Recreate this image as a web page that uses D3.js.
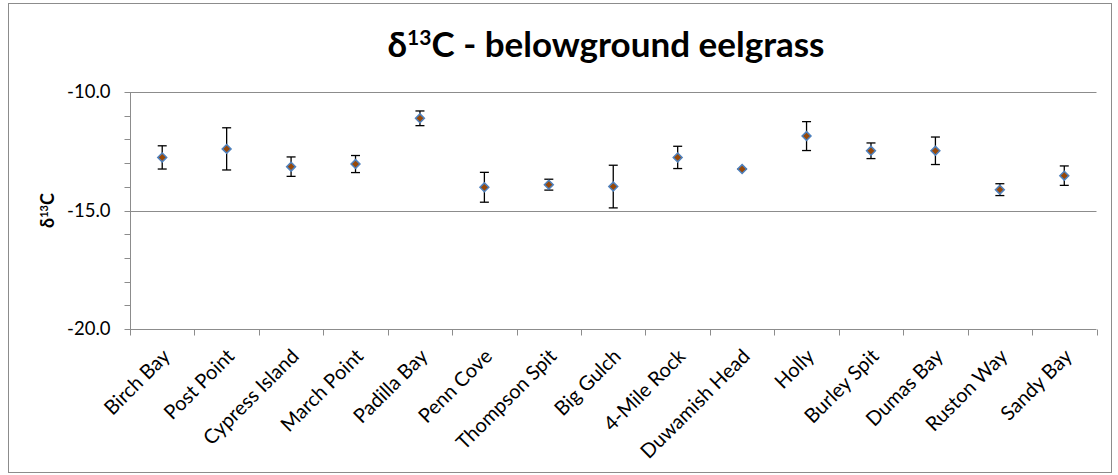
<!DOCTYPE html>
<html lang="en">
<head>
  <meta charset="UTF-8">
  <title>d13C belowground eelgrass</title>
  <script src="https://d3js.org/d3.v7.min.js"></script>
  <style>
    body { margin: 0; background: #fff; }
    text { font-family: Lato, "Open Sans", sans-serif; fill: #000; }
    .tick-label { font-size: 18.5px; }
    .cat-label { font-size: 20px; }
  </style>
</head>
<body>
  <svg id="chart" width="1118" height="475"></svg>
  <script>
    // sites along the x axis
    const sites = ['Birch Bay', 'Post Point', 'Cypress Island', 'March Point', 'Padilla Bay',
      'Penn Cove', 'Thompson Spit', 'Big Gulch', '4-Mile Rock', 'Duwamish Head',
      'Holly', 'Burley Spit', 'Dumas Bay', 'Ruston Way', 'Sandy Bay'];
    // mean d13C
    const means = [-12.76, -12.40, -13.15, -13.04, -11.11,
      -14.02, -13.91, -13.99, -12.76, -13.25,
      -11.86, -12.48, -12.48, -14.12, -13.53];
    // error bar half width
    const errs = [0.49, 0.89, 0.41, 0.36, 0.31,
      0.63, 0.23, 0.90, 0.47, 0.0,
      0.61, 0.33, 0.58, 0.25, 0.41];
    const yTicks = [-10, -15, -20];
    const yMinor = d3.range(-20, -9, 1);

    const svg = d3.select('#chart');
    const margin = { left: 130, right: 1096.5, top: 92, bottom: 329 };

    // outer chart border
    svg.append('rect')
      .attr('x', 8.5).attr('y', 3.5)
      .attr('width', 1103).attr('height', 469)
      .attr('fill', 'none').attr('stroke', '#8c8c8c').attr('stroke-width', 1);

    const x = d3.scaleBand().domain(sites).range([margin.left, margin.right]);
    const y = d3.scaleLinear().domain([-20, -10]).range([margin.bottom, margin.top]);
    const cx = (d) => x(d) + x.bandwidth() / 2;

    // gridlines
    svg.append('g')
      .selectAll('line')
      .data(yTicks)
      .enter()
      .append('line')
      .attr('x1', margin.left).attr('x2', margin.right)
      .attr('y1', (d) => Math.round(y(d)) + 0.5).attr('y2', (d) => Math.round(y(d)) + 0.5)
      .attr('stroke', '#8c8c8c').attr('stroke-width', 1);

    // y axis with minor ticks
    const yAxis = svg.append('g').attr('transform', `translate(${margin.left + 0.5},0)`);
    yAxis.append('line')
      .attr('x1', 0).attr('x2', 0)
      .attr('y1', margin.top).attr('y2', margin.bottom)
      .attr('stroke', '#8c8c8c');
    yAxis.selectAll('.minor')
      .data(yMinor)
      .enter()
      .append('line')
      .attr('x1', -6).attr('x2', 0)
      .attr('y1', (d) => Math.round(y(d)) + 0.5).attr('y2', (d) => Math.round(y(d)) + 0.5)
      .attr('stroke', '#8c8c8c');
    yAxis.selectAll('text')
      .data(yTicks)
      .enter()
      .append('text')
      .attr('class', 'tick-label')
      .attr('x', -20)
      .attr('y', (d) => y(d))
      .attr('dy', '0.35em')
      .attr('text-anchor', 'end')
      .text((d) => d3.format('.1f')(d).replace('−', '-'));

    // x axis with category ticks
    const xAxis = svg.append('g').attr('transform', `translate(0,${margin.bottom + 0.5})`);
    const bounds = sites.map((s) => x(s)).concat([margin.right]);
    xAxis.selectAll('line.tk')
      .data(bounds)
      .enter()
      .append('line')
      .attr('x1', (d) => Math.round(d) + 0.5).attr('x2', (d) => Math.round(d) + 0.5)
      .attr('y1', 0).attr('y2', 6)
      .attr('stroke', '#8c8c8c');
    xAxis.selectAll('text')
      .data(sites)
      .enter()
      .append('text')
      .attr('class', 'cat-label')
      .attr('text-anchor', 'end')
      .attr('transform', (d) => `translate(${cx(d) + 9},${28}) rotate(-45)`)
      .text((d) => d);

    // error bars
    const bars = svg.append('g')
      .selectAll('g')
      .data(sites)
      .enter()
      .append('g')
      .attr('stroke', '#000').attr('stroke-width', 1.3);
    bars.append('line')
      .attr('x1', cx).attr('x2', cx)
      .attr('y1', (d, i) => y(means[i] + errs[i])).attr('y2', (d, i) => y(means[i] - errs[i]));
    bars.append('line')
      .attr('x1', (d) => cx(d) - 4.5).attr('x2', (d) => cx(d) + 4.5)
      .attr('y1', (d, i) => y(means[i] + errs[i])).attr('y2', (d, i) => y(means[i] + errs[i]));
    bars.append('line')
      .attr('x1', (d) => cx(d) - 4.5).attr('x2', (d) => cx(d) + 4.5)
      .attr('y1', (d, i) => y(means[i] - errs[i])).attr('y2', (d, i) => y(means[i] - errs[i]));

    // diamond markers
    const diamond = d3.symbol().type(d3.symbolDiamond2).size(50);
    svg.append('g')
      .selectAll('path')
      .data(sites)
      .enter()
      .append('path')
      .attr('d', diamond)
      .attr('transform', (d, i) => `translate(${cx(d)},${y(means[i])})`)
      .attr('fill', '#984807')
      .attr('stroke', '#4f81bd')
      .attr('stroke-width', 1.5);

    // title
    const title = svg.append('text')
      .attr('x', 606)
      .attr('y', 57)
      .attr('text-anchor', 'middle')
      .style('font-size', '35px')
      .style('font-weight', 'bold');
    title.append('tspan').text('δ');
    title.append('tspan').attr('baseline-shift', 'super').style('font-size', '21px').text('13');
    title.append('tspan').text('C - belowground eelgrass');

    // y label
    const ylab = svg.append('text')
      .attr('transform', `translate(54,${(margin.top + margin.bottom) / 2}) rotate(-90)`)
      .attr('text-anchor', 'middle')
      .style('font-size', '18px')
      .style('font-weight', 'bold');
    ylab.append('tspan').text('δ');
    ylab.append('tspan').attr('baseline-shift', 'super').style('font-size', '11px').text('13');
    ylab.append('tspan').text('C');
  </script>
</body>
</html>
